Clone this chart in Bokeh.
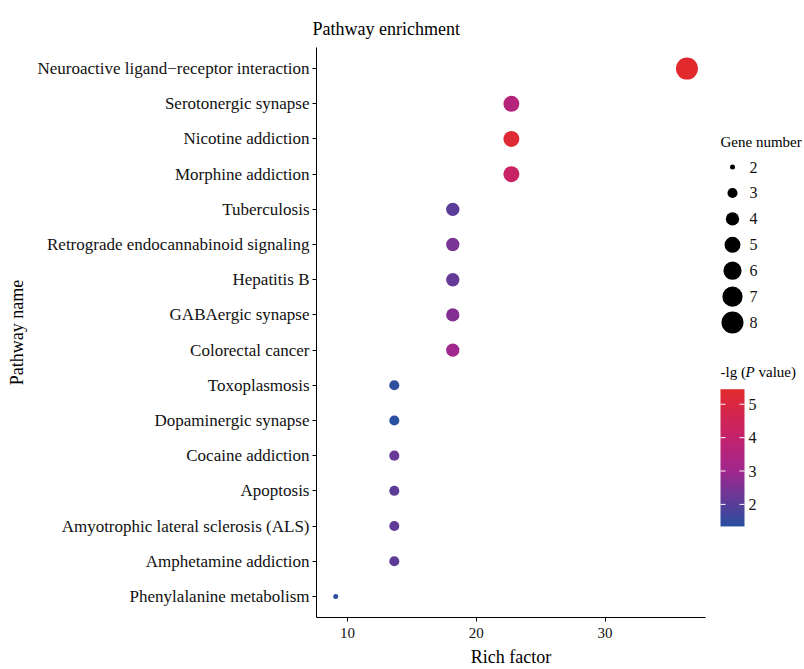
import numpy as np
from bokeh.plotting import figure
from bokeh.models import Range1d, FixedTicker, ColumnDataSource, LinearColorMapper
from bokeh.layouts import row
from bokeh.embed import file_html
from bokeh.resources import INLINE
from bokeh.core.properties import value

# ---------------- data (top to bottom) ----------------
pathways = [
    "Neuroactive ligand\u2212receptor interaction",
    "Serotonergic synapse",
    "Nicotine addiction",
    "Morphine addiction",
    "Tuberculosis",
    "Retrograde endocannabinoid signaling",
    "Hepatitis B",
    "GABAergic synapse",
    "Colorectal cancer",
    "Toxoplasmosis",
    "Dopaminergic synapse",
    "Cocaine addiction",
    "Apoptosis",
    "Amyotrophic lateral sclerosis (ALS)",
    "Amphetamine addiction",
    "Phenylalanine metabolism",
]
rich_factor = [36.36, 22.73, 22.73, 22.73, 18.18, 18.18, 18.18, 18.18, 18.18,
               13.64, 13.64, 13.64, 13.64, 13.64, 13.64, 9.09]
gene_number = [8, 5, 5, 5, 4, 4, 4, 4, 4, 3, 3, 3, 3, 3, 3, 2]
neg_log_p = [5.45, 3.6, 5.3, 4.2, 2.0, 2.45, 2.15, 2.6, 3.0,
             1.4, 1.34, 2.2, 2.05, 2.1, 2.05, 1.4]

x_ticks = [10, 20, 30]
size_legend_values = [2, 3, 4, 5, 6, 7, 8]
color_ticks = [2, 3, 4, 5]

FONT = "Liberation Serif"

# ---------------- scales ----------------
p_lo, p_hi = min(neg_log_p), max(neg_log_p)
g_lo, g_hi = min(gene_number), max(gene_number)
d_min, d_max = 5.0, 22.0


def size_of(n):
    t = (n - g_lo) / (g_hi - g_lo)
    return float(np.sqrt(d_min ** 2 + t * (d_max ** 2 - d_min ** 2)))


stops_v = [1.34, 2.0, 3.0, 4.0, 5.45]
stops_c = ["#2a4fa0", "#5a3d98", "#a0288e", "#c4226e", "#e22a2e"]


def hex2rgb(h):
    return [int(h[i:i + 2], 16) for i in (1, 3, 5)]


palette = []
for v in np.linspace(stops_v[0], stops_v[-1], 256):
    k = min(np.searchsorted(stops_v, v, side="right") - 1, len(stops_v) - 2)
    t = (v - stops_v[k]) / (stops_v[k + 1] - stops_v[k])
    a, b = hex2rgb(stops_c[k]), hex2rgb(stops_c[k + 1])
    c = [int(round(a[j] + t * (b[j] - a[j]))) for j in range(3)]
    palette.append("#%02x%02x%02x" % tuple(c))

mapper = LinearColorMapper(palette=palette, low=p_lo, high=p_hi)

n = len(pathways)
ypos = [n - i for i in range(n)]

src = ColumnDataSource(dict(
    x=rich_factor, y=ypos, name=pathways, gene=gene_number, p=neg_log_p,
    size=[size_of(g) for g in gene_number],
))

# ---------------- main figure ----------------
H = 669
W1 = 718
TOP, BOTTOM = 47, 50
p = figure(width=W1, height=H, x_range=Range1d(7.6, 37.8), y_range=Range1d(0.4, n + 0.6),
           toolbar_location=None, output_backend="svg",
           min_border_left=316, min_border_right=13, min_border_top=TOP, min_border_bottom=BOTTOM)
p.scatter("x", "y", source=src, size="size",
          fill_color={"field": "p", "transform": mapper}, line_color=None)

p.grid.visible = False
p.outline_line_color = None
p.background_fill_color = "white"

p.xaxis.ticker = FixedTicker(ticks=x_ticks)
p.yaxis.ticker = FixedTicker(ticks=ypos)
p.yaxis.major_label_overrides = {y: name for y, name in zip(ypos, pathways)}

for ax in (p.xaxis[0], p.yaxis[0]):
    ax.axis_line_color = "black"
    ax.axis_line_width = 1
    ax.major_tick_line_color = "black"
    ax.major_tick_out = 4
    ax.major_tick_in = 0
    ax.minor_tick_line_color = None
    ax.major_label_text_font = FONT
    ax.major_label_text_color = "#111111"
    ax.axis_label_text_font = FONT
    ax.axis_label_text_font_style = "normal"
    ax.axis_label_text_font_size = "18px"
    ax.axis_label_text_color = "black"

p.yaxis.major_label_text_font_size = "17px"
p.yaxis.major_label_standoff = 3
p.yaxis.axis_label = "Pathway name"
p.yaxis.axis_label_standoff = 7
p.xaxis.major_label_text_font_size = "15px"
p.xaxis.major_label_standoff = 6
p.xaxis.axis_label = "Rich factor"
p.xaxis.axis_label_standoff = 6

p.title.text = "Pathway enrichment"
p.title.text_font = FONT
p.title.text_font_size = "18px"
p.title.text_font_style = "normal"
p.title.text_color = "black"
p.title.align = "left"
p.title.offset = -4
p.title.standoff = 18

# ---------------- legend panel ----------------
# its frame is aligned with the main frame (rows TOP..H-BOTTOM), so y data == page px
W2 = 804 - W1
X0 = 2
q = figure(width=W2, height=H, x_range=Range1d(0, W2), y_range=Range1d(H - BOTTOM, TOP),
           toolbar_location=None, output_backend="svg", min_border=0,
           min_border_top=TOP, min_border_bottom=BOTTOM,
           x_axis_location=None, y_axis_location=None)
q.grid.visible = False
q.outline_line_color = None

# size legend
sl_y0, sl_dy = 167, 26
k_n = len(size_legend_values)
sl_src = ColumnDataSource(dict(
    x=[X0 + 12] * k_n,
    y=[sl_y0 + sl_dy * i for i in range(k_n)],
    size=[size_of(v) for v in size_legend_values],
    lab=[str(v) for v in size_legend_values],
    lx=[X0 + 29] * k_n,
))
q.scatter("x", "y", source=sl_src, size="size", fill_color="black", line_color=None)
q.text("lx", "y", text="lab", source=sl_src, text_font=value(FONT), text_font_size="16px",
       text_baseline="middle", text_align="left", text_color="#111111")
q.text([X0], [sl_y0 - 25], text=["Gene number"], text_font=value(FONT), text_font_size="15px",
       text_baseline="middle", text_align="left", text_color="black")

# color bar
cb_top_y, cb_px_per = 405, 33.5


def cb_y(v):
    return cb_top_y + (5 - v) * cb_px_per


grad = np.linspace(p_hi, p_lo, 160).reshape(-1, 1)  # row 0 = top of the bar
q.image(image=[grad], x=X0, y=cb_y(p_hi), dw=24, dh=cb_y(p_lo) - cb_y(p_hi),
        color_mapper=mapper)
ty = [cb_y(v) for v in color_ticks]
q.segment(x0=[X0] * len(ty), x1=[X0 + 5] * len(ty), y0=ty, y1=ty, line_color="white", line_width=1)
q.segment(x0=[X0 + 19] * len(ty), x1=[X0 + 24] * len(ty), y0=ty, y1=ty, line_color="white", line_width=1)
q.text([X0 + 28] * len(ty), ty, text=[str(v) for v in color_ticks], text_font=value(FONT),
       text_font_size="16px", text_baseline="middle", text_align="left", text_color="#111111")

t_y = 373
q.text([X0], [t_y], text=["-lg ("], text_font=value(FONT), text_font_size="15px",
       text_baseline="middle", text_align="left", text_color="black")
q.text([X0 + 25], [t_y], text=["P"], text_font=value(FONT), text_font_size="15px",
       text_font_style="italic", text_baseline="middle", text_align="left", text_color="black")
q.text([X0 + 38], [t_y], text=["value)"], text_font=value(FONT), text_font_size="15px",
       text_baseline="middle", text_align="left", text_color="black")

layout = row(p, q)
open("out.html", "w").write(file_html(layout, INLINE))
